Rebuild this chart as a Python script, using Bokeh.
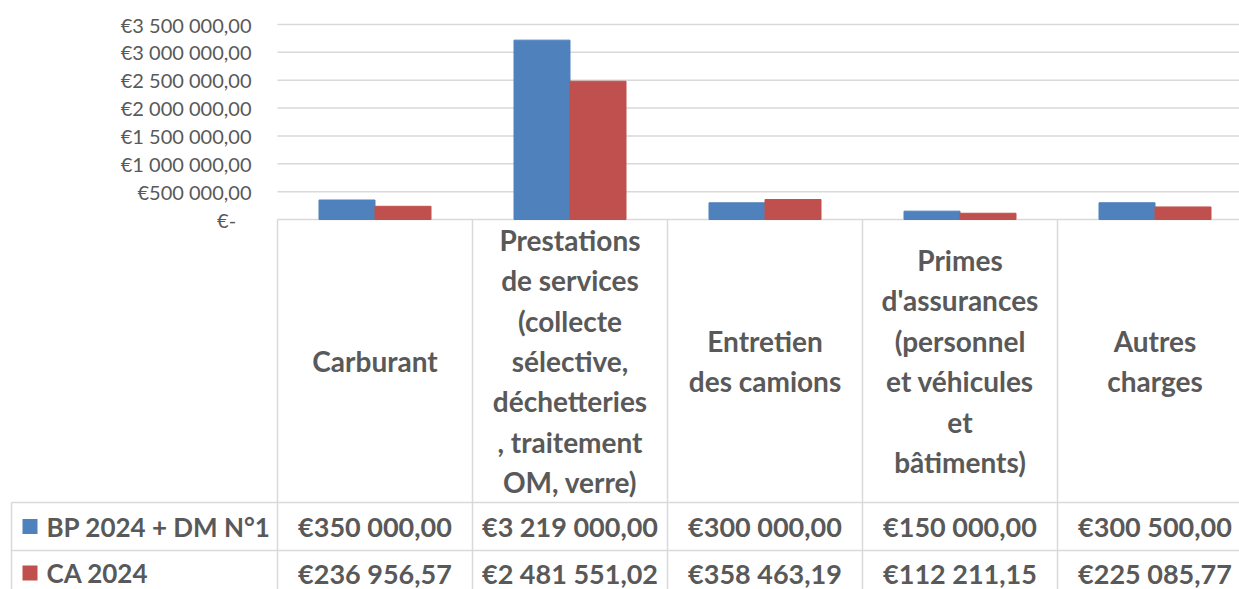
from bokeh.plotting import figure
from bokeh.models import (Range1d, FixedTicker, CustomJSTickFormatter,
                          ColumnDataSource, LinearAxis)
from bokeh.embed import file_html
from bokeh.resources import INLINE
from bokeh.core.properties import value
from bokeh.transform import dodge

# ---------------- data ----------------
categories = ["Carburant", "Prestations de services", "Entretien des camions",
              "Primes d'assurances", "Autres charges"]
category_labels = [
    "Carburant",
    "Prestations\nde services\n(collecte\nsélective,\ndéchetteries\n, traitement\nOM, verre)",
    "Entretien\ndes camions",
    "Primes\nd'assurances\n(personnel\net véhicules\net\nbâtiments)",
    "Autres\ncharges",
]
series_names = ["BP 2024 + DM N°1", "CA 2024"]
bp_2024 = [350000.00, 3219000.00, 300000.00, 150000.00, 300500.00]
ca_2024 = [236956.57, 2481551.02, 358463.19, 112211.15, 225085.77]
y_ticks = [0, 500000, 1000000, 1500000, 2000000, 2500000, 3000000, 3500000]

# ---------------- style / layout ----------------
colors = ["#4F81BD", "#C0504D"]
FONT = "Lato"
TXT = "#595959"
GRID = "#D9D9D9"
W, H = 1239, 589
X0 = 277              # canvas x of the plot-area left edge
Y0 = 219              # canvas y of the value axis zero
PX = 195.0            # pixels per category column
per_px = 3500000 / 195.0


def euro(v):
    s = f"{v:,.2f}".replace(",", " ").replace(".", ",")
    return "€" + s


p = figure(width=W, height=H, output_backend="svg", toolbar_location=None,
           x_range=Range1d(-X0 / PX, (W - X0) / PX),
           y_range=Range1d(H - Y0, -Y0),          # pixel offsets below the zero line
           min_border=0, min_border_left=0, min_border_right=0,
           min_border_top=0, min_border_bottom=0,
           x_axis_location=None, y_axis_location=None)
p.outline_line_color = None
p.grid.visible = False
p.extra_y_ranges = {"money": Range1d(-(H - Y0) * per_px, Y0 * per_px)}

# value axis, pinned at the plot-area left edge
yax = LinearAxis(y_range_name="money", fixed_location=0,
                 ticker=FixedTicker(ticks=y_ticks))
yax.axis_line_color = None
yax.major_tick_line_color = None
yax.minor_tick_line_color = None
yax.major_label_standoff = 20
yax.major_label_text_font = FONT
yax.major_label_text_font_size = "20px"
yax.major_label_text_color = TXT
yax.formatter = CustomJSTickFormatter(code=r"""
if (Math.abs(tick) < 1) { return "€-\u00a0\u00a0\u00a0"; }
var s = Math.round(tick).toString().replace(/\B(?=(\d{3})+(?!\d))/g, " ");
return "€" + s + ",00";
""")
p.add_layout(yax, "left")

n = len(categories)
x_right = n + 0.2

# gridlines (plot area only)
p.segment(x0=[0] * len(y_ticks), x1=[x_right] * len(y_ticks), y0=y_ticks, y1=y_ticks,
          y_range_name="money", line_color=GRID, line_width=1.5)

# bars
src = ColumnDataSource(dict(x=[i + 0.5 for i in range(n)], bp=bp_2024, ca=ca_2024))
bw = 56 / PX
p.vbar(x=dodge("x", -bw / 2, range=p.x_range), top="bp", width=bw,
       fill_color=colors[0], line_color=colors[0], source=src, y_range_name="money")
p.vbar(x=dodge("x", bw / 2, range=p.x_range), top="ca", width=bw,
       fill_color=colors[1], line_color=colors[1], source=src, y_range_name="money")

# ---------------- data table ----------------
table_left = (11 - X0) / PX
header_bottom = 283
row_h = 48
row_tops = [header_bottom + k * row_h for k in range(len(series_names) + 1)]
bottom_v = H - Y0 + 5

p.segment(x0=list(range(n + 1)), x1=list(range(n + 1)),
          y0=[0] * (n + 1), y1=[bottom_v] * (n + 1), line_color=GRID, line_width=1.5)
p.segment(x0=[table_left], x1=[table_left], y0=[header_bottom], y1=[bottom_v],
          line_color=GRID, line_width=1.5)
p.segment(x0=[table_left] * len(row_tops), x1=[x_right] * len(row_tops),
          y0=row_tops, y1=row_tops, line_color=GRID, line_width=1.5)

p.text(x=[i + 0.5 for i in range(n)], y=[header_bottom / 2] * n, text=category_labels,
       text_align="center", text_baseline="middle", text_font=value(FONT),
       text_font_style="bold", text_font_size="28px", text_color=TXT,
       text_line_height=1.19)

for k, vals in enumerate([bp_2024, ca_2024]):
    yc = header_bottom + row_h * (k + 0.5) - 1.5 * k
    p.text(x=[i + 0.5 for i in range(n)], y=[yc] * n, text=[euro(v) for v in vals],
           text_align="center", text_baseline="middle", text_font=value(FONT),
           text_font_style="bold", text_font_size="27px", text_color=TXT)
    p.rect(x=[(29.5 - X0) / PX], y=[yc], width=15 / PX, height=15,
           fill_color=colors[k], line_color=None)
    p.text(x=[(46 - X0) / PX], y=[yc], text=[series_names[k]],
           text_align="left", text_baseline="middle", text_font=value(FONT),
           text_font_style="bold", text_font_size="26px", text_color=TXT)

open("out.html", "w").write(file_html(p, INLINE))
